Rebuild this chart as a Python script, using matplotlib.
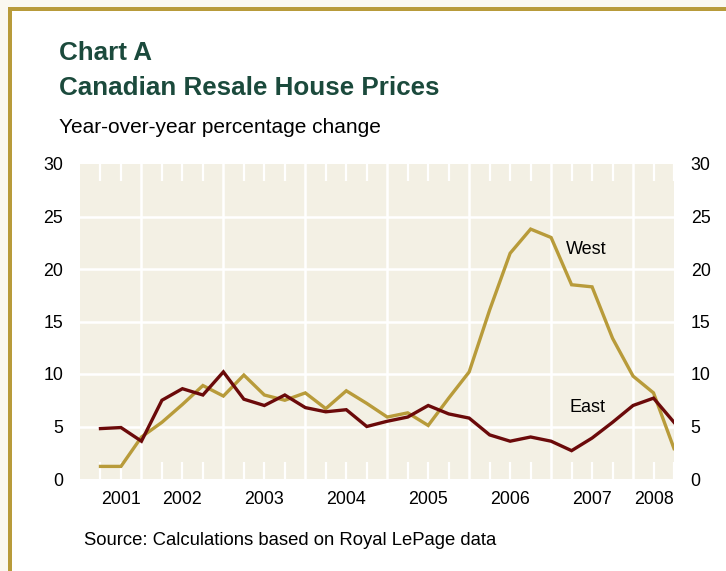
import matplotlib
matplotlib.use('Agg')
import matplotlib.pyplot as plt
from matplotlib.patches import Rectangle

# quarterly observations, 2001Q3 .. 2008Q3
quarters = [f'{y}Q{q}' for y in range(2001, 2009) for q in range(1, 5)][2:31]
west = [1.2, 1.2, 4.0, 5.4, 7.1, 8.9, 7.9, 9.9, 8.0, 7.5, 8.2, 6.7, 8.4, 7.2, 5.9,
        6.3, 5.1, 7.7, 10.2, 16.1, 21.5, 23.8, 23.0, 18.5, 18.3, 13.4, 9.8, 8.2, 2.9]
east = [4.8, 4.9, 3.6, 7.5, 8.6, 8.0, 10.2, 7.6, 7.0, 8.0, 6.8, 6.4, 6.6, 5.0, 5.5,
        5.9, 7.0, 6.2, 5.8, 4.2, 3.6, 4.0, 3.6, 2.7, 3.9, 5.4, 7.0, 7.7, 5.4]
years = ['2001', '2002', '2003', '2004', '2005', '2006', '2007', '2008']
yticks = [0, 5, 10, 15, 20, 25, 30]

W, H = 726, 571
GOLD = '#b89b3a'
RED = '#6b0a0a'
GREEN = '#1b4a3c'
PLOTBG = '#f3f0e4'


def fx(px):
    return px / W


def fy(py):
    return 1 - py / H


def qpos(s):
    return int(s[:4]) + (int(s[5]) - 1) / 4


x = [qpos(s) for s in quarters]

plt.rcParams['font.family'] = ['Liberation Sans', 'DejaVu Sans']
fig = plt.figure(figsize=(W / 100, H / 100), dpi=100)
fig.patch.set_facecolor('white')

# page background outside the frame + gold frame
fig.add_artist(Rectangle((0, fy(7)), 1, 7 / H, transform=fig.transFigure,
                         facecolor='#faf8f0', edgecolor='none'))
fig.add_artist(Rectangle((0, 0), fx(8), 1, transform=fig.transFigure,
                         facecolor='#faf8f0', edgecolor='none'))
fig.add_artist(Rectangle((fx(8), fy(11)), 1, 4 / H, transform=fig.transFigure,
                         facecolor=GOLD, edgecolor='none'))
fig.add_artist(Rectangle((fx(8), 0), 4 / W, fy(7), transform=fig.transFigure,
                         facecolor=GOLD, edgecolor='none'))

# titles
fig.text(fx(59), fy(60), 'Chart A', fontsize=18.7, fontweight='bold',
         color=GREEN, va='baseline')
fig.text(fx(59), fy(95), 'Canadian Resale House Prices', fontsize=18.7,
         fontweight='bold', color=GREEN, va='baseline')
fig.text(fx(59), fy(133), 'Year-over-year percentage change', fontsize=15,
         color='black', va='baseline')
fig.text(fx(84), fy(545), 'Source: Calculations based on Royal LePage data',
         fontsize=13.3, color='black', va='baseline')

ax = fig.add_axes([fx(80), fy(479), (674 - 80) / W, (479 - 164) / H])
ax.set_facecolor(PLOTBG)
for s in ax.spines.values():
    s.set_visible(False)

xmin, xmax = x[0] - 0.25, x[-1]
ax.set_xlim(xmin, xmax)
ax.set_ylim(0, 30)

for v in yticks[1:-1]:
    ax.axhline(v, color='white', lw=1.8, zorder=1)
for yr in years[1:]:
    ax.axvline(int(yr), color='white', lw=1.8, zorder=1)

qticks = [v for v in x if v != int(v)]
ax.set_xticks(qticks)
ax.tick_params(axis='x', which='major', direction='in', length=12.3, width=1.6,
               color='white', top=True, bottom=True, labelbottom=False)
ax.set_axisbelow(True)

ax.set_yticks(yticks)
ax.tick_params(axis='y', length=0, labelleft=True, labelright=True, pad=12,
               labelsize=12.8)

ax.plot(x, west, color=GOLD, lw=2.4, zorder=3, solid_joinstyle='miter')
ax.plot(x, east, color=RED, lw=2.4, zorder=4, solid_joinstyle='miter')

# year labels centred on each year's span of data
for yr in years:
    lo = max(int(yr), x[0])
    hi = min(int(yr) + 1, x[-1])
    ax.text((lo + hi) / 2, -0.065, yr, transform=ax.get_xaxis_transform(),
            ha='center', va='center', fontsize=12.8)

ax.text(2007.43, 21.9, 'West', fontsize=13, ha='center', va='center')
ax.text(2007.44, 6.8, 'East', fontsize=13, ha='center', va='center')

fig.savefig('out.png', dpi=100)
